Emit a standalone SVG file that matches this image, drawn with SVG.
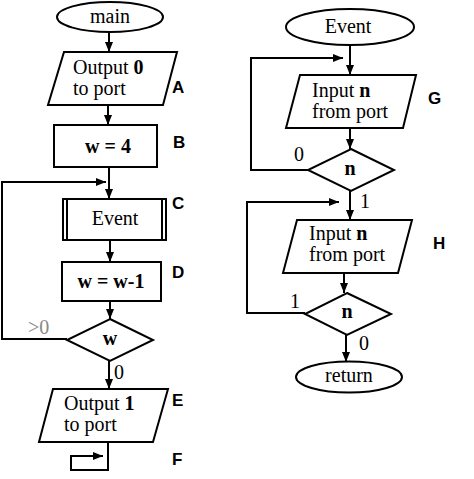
<svg xmlns="http://www.w3.org/2000/svg" width="474" height="479" viewBox="0 0 474 479">
<defs>
<marker id="ah" viewBox="0 0 10 8" refX="10" refY="4" markerWidth="10" markerHeight="8" markerUnits="userSpaceOnUse" orient="auto">
<path d="M0,0 L10,4 L0,8 Z" fill="#000"/>
</marker>
</defs>
<style>
.s{fill:#fff;stroke:#000;stroke-width:2}
.t{font-family:"Liberation Serif","Times New Roman",serif;font-size:20px;fill:#000}
.c{text-anchor:middle}
.b{font-weight:bold}
.l{font-family:"Liberation Sans",Arial,sans-serif;font-size:17px;font-weight:bold;fill:#000}
.e{fill:none;stroke:#000;stroke-width:2}
.a{marker-end:url(#ah)}
.g{fill:#888}
</style>
<rect width="474" height="479" fill="#fff"/>
<g id="connectors">
<path class="e a" d="M109,32 V52"/>
<path class="e a" d="M108,105 V125"/>
<path class="e a" d="M109,167 V199"/>
<path class="e a" d="M67,339 H2 V182 H106"/>
<path class="e a" d="M110,240 V262"/>
<path class="e a" d="M110,301 V319"/>
<path class="e a" d="M109,361 V389"/>
<path class="e a" d="M108,442 V470 H71 V456 H103"/>
<path class="e a" d="M350,46 V75"/>
<path class="e a" d="M350,128 V149"/>
<path class="e a" d="M308,170 H251 V58 H343"/>
<path class="e a" d="M350,191 V220"/>
<path class="e a" d="M305,313 H247 V202 H339"/>
<path class="e a" d="M344,273 V293"/>
<path class="e a" d="M346,335 V362"/>
<text class="t g" x="28" y="334">&gt;0</text>
<text class="t" x="114" y="379">0</text>
<text class="t" x="294" y="161">0</text>
<text class="t" x="360" y="208">1</text>
<text class="t" x="290" y="308">1</text>
<text class="t" x="359" y="350">0</text>
</g>
<g id="main">
<ellipse class="s" cx="110" cy="17" rx="53" ry="15"/>
<text class="t c" x="110" y="23">main</text>
</g>
<g id="A">
<polygon class="s" points="64,52 177,52 163,105 48,105"/>
<text class="t" x="73" y="74">Output <tspan class="b">0</tspan></text>
<text class="t" x="73" y="95">to port</text>
<text class="l" x="172" y="93">A</text>
</g>
<g id="B">
<rect class="s" x="54" y="125" width="103" height="42"/>
<text class="t c b" x="108" y="153">w = 4</text>
<text class="l" x="173" y="148">B</text>
</g>
<g id="C">
<rect class="s" x="63" y="199" width="103" height="41"/>
<path class="e" d="M67,199 V240 M162,199 V240"/>
<text class="t c" x="115" y="225">Event</text>
<text class="l" x="172" y="209">C</text>
</g>
<g id="D">
<rect class="s" x="62" y="262" width="99" height="39"/>
<text class="t c b" x="111" y="288">w = w-1</text>
<text class="l" x="172" y="278">D</text>
</g>
<g id="W">
<polygon class="s" points="110,319 153,340 110,361 67,340"/>
<text class="t c b" x="110" y="345">w</text>
</g>
<g id="E">
<polygon class="s" points="53,389 168,389 153,442 39,442"/>
<text class="t" x="64" y="410">Output <tspan class="b">1</tspan></text>
<text class="t" x="64" y="431">to port</text>
<text class="l" x="172" y="406">E</text>
</g>
<g id="F">
<text class="l" x="172" y="465">F</text>
</g>
<g id="Event">
<ellipse class="s" cx="350" cy="27" rx="64" ry="18"/>
<text class="t c" x="348" y="33">Event</text>
</g>
<g id="G">
<polygon class="s" points="300,75 416,75 403,128 286,128"/>
<text class="t" x="312" y="97">Input <tspan class="b">n</tspan></text>
<text class="t" x="312" y="118">from port</text>
<text class="l" x="428" y="104">G</text>
</g>
<g id="N1">
<polygon class="s" points="351,149 394,170 351,191 308,170"/>
<text class="t c b" x="350" y="175">n</text>
</g>
<g id="H">
<polygon class="s" points="297,220 412,220 398,273 283,273"/>
<text class="t" x="309" y="240">Input <tspan class="b">n</tspan></text>
<text class="t" x="309" y="261">from port</text>
<text class="l" x="433" y="249">H</text>
</g>
<g id="N2">
<polygon class="s" points="347,293 391,314 347,335 305,314"/>
<text class="t c b" x="347" y="318">n</text>
</g>
<g id="return">
<ellipse class="s" cx="349" cy="377" rx="53" ry="15.5"/>
<text class="t c" x="349" y="382">return</text>
</g>
</svg>
